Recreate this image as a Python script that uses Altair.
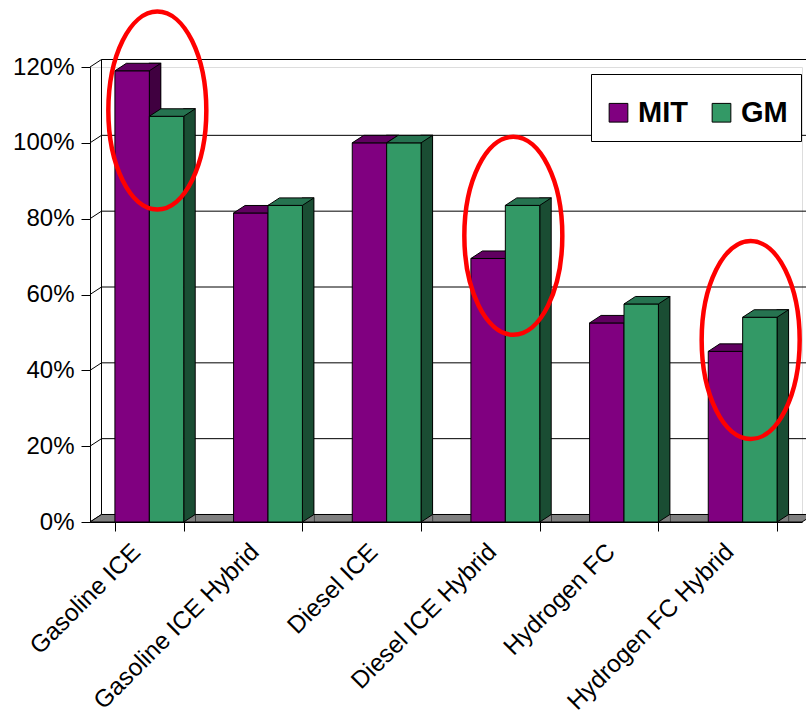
import altair as alt
import pandas as pd

# ---------------- data ----------------
categories = ["Gasoline ICE", "Gasoline ICE Hybrid", "Diesel ICE",
              "Diesel ICE Hybrid", "Hydrogen FC", "Hydrogen FC Hybrid"]
series = ["MIT", "GM"]
mit_values = [119, 81.5, 100, 69.5, 52.5, 45]
gm_values = [107, 83.5, 100, 83.5, 57.5, 54]
y_ticks = [0, 20, 40, 60, 80, 100, 120]
highlight_categories = ["Gasoline ICE", "Diesel ICE Hybrid", "Hydrogen FC Hybrid"]
highlight_centers = [108.5, 75.5, 48]

front_colors = ["#800080", "#339966"]
top_colors = ["#600060", "#267350"]
side_colors = ["#400040", "#1a4d33"]

# ---------------- geometry (styling) ----------------
W, H = 712, 455
PAD = {"left": 90, "top": 67, "right": 4, "bottom": 192}
DX, DY = 11.5, 7.5
P_IN, P_OUT = 0.42, 0.21
step = W / len(categories)
bar_w = step * (1 - P_IN) / 2
series_shift = [-bar_w / 2, bar_w / 2]


def poly(points, close=True):
    s = "M" + " L".join(f"{x:.4f},{y:.4f}" for x, y in points)
    return s + (" Z" if close else "")


# top face parallelogram
k_top = (bar_w + DX) / 2
a_top = (DY / 2) / k_top
top_path = poly([(-1, a_top), ((bar_w - DX) / 2 / k_top, a_top),
                 (1, -a_top), (-(bar_w - DX) / 2 / k_top, -a_top)])
# floor triangle to the right of each side face
k_tri = DX / 2
a_tri = (DY / 2) / k_tri
tri_path = poly([(1, a_tri), (-1, a_tri), (1, -a_tri)], close=False)
# floor parallelogram
k_floor = (W + DX) / 2
a_floor = (DY / 2) / k_floor
floor_path = poly([(-1, a_floor), ((W - k_floor) / k_floor, a_floor),
                   (1, -a_floor), ((DX - k_floor) / k_floor, -a_floor)])
# ellipse
k_ell = 99
rx = 49 / k_ell
ell_path = f"M{-rx:.4f},0 A{rx:.4f},1 0 1,0 {rx:.4f},0 A{rx:.4f},1 0 1,0 {-rx:.4f},0 Z"

rows = []
for c, m, g in zip(categories, mit_values, gm_values):
    rows.append({"category": c, "series": "MIT", "value": m})
    rows.append({"category": c, "series": "GM", "value": g})
df = pd.DataFrame(rows)
ticks_df = pd.DataFrame({"tick": y_ticks})
hl_df = pd.DataFrame({"category": highlight_categories, "center": highlight_centers})

FONT = "Liberation Sans"

x_scale = alt.Scale(domain=categories, paddingInner=P_IN, paddingOuter=P_OUT)
y_scale = alt.Scale(domain=[0, 120], nice=False)

x_axis = alt.Axis(title=None, labelAngle=-45, labelAlign="right", labelBaseline="middle",
                  labelFontSize=24.5, labelPadding=17, labelOffset=-13, tickSize=9,
                  tickBand="extent", labelOverlap=False, labelLimit=400, grid=False,
                  domainColor="black", tickColor="black", labelColor="black", labelFont=FONT)
y_axis = alt.Axis(title=None, values=y_ticks, labelExpr="datum.value + '%'",
                  labelFontSize=24, tickSize=9, labelPadding=7, grid=False,
                  domainColor="black", tickColor="black", labelColor="black", labelFont=FONT)


def X():
    return alt.X("category:N", scale=x_scale, axis=x_axis)


def Y(field=None, datum=None):
    if datum is not None:
        return alt.Y(datum=datum, scale=y_scale, axis=y_axis)
    return alt.Y(field, scale=y_scale, axis=y_axis)


# back wall gridlines
grid = alt.Chart(ticks_df).mark_rule(stroke="black", strokeWidth=1, yOffset=-DY).encode(
    y=Y("tick:Q"), x=alt.value(DX), x2=alt.value(W + DX))

# left wall diagonals
diag = alt.Chart(ticks_df).mark_rule(stroke="black", strokeWidth=1, y2Offset=-DY).encode(
    y=Y("tick:Q"), y2="tick:Q", x=alt.value(0), x2=alt.value(DX))

# left wall back edge
wall = alt.Chart(alt.Data(values=[{"lo": 0, "hi": 120}])).mark_rule(
    stroke="black", strokeWidth=1, yOffset=-DY, y2Offset=-DY).encode(
    y=Y("lo:Q"), y2="hi:Q", x=alt.value(DX))

# floor
floor = alt.Chart(alt.Data(values=[{"z": 0}])).mark_point(
    shape=floor_path, size=(2 * k_floor) ** 2, filled=True, fill="#808080",
    stroke="black", strokeWidth=1, opacity=1, yOffset=-DY / 2).encode(
    y=Y("z:Q"), x=alt.value(k_floor))

layers = [grid, diag, wall, floor]

legend = alt.Legend(title=" ", titleFontSize=8, titlePadding=3, orient="none",
                    legendX=501, legendY=7, direction="horizontal", symbolType="square",
                    symbolSize=350, symbolStrokeColor="black", symbolStrokeWidth=1,
                    labelFontSize=29, labelFontWeight="bold", labelOffset=5,
                    columnPadding=19, padding=13, strokeColor="black", fillColor="white",
                    labelColor="black", labelFont=FONT)

for i, s in enumerate(series):
    off = series_shift[i]
    base = alt.Chart(df).transform_filter(alt.datum.series == s)
    side_edge = base.mark_rule(stroke="black", strokeWidth=DX + 1,
                               xOffset=off + bar_w / 2 + DX / 2, yOffset=-DY - 0.5).encode(
        x=X(), y=Y("value:Q"), y2=alt.Y2(datum=0))
    side_fill = base.mark_rule(stroke=side_colors[i], strokeWidth=DX - 1,
                               xOffset=off + bar_w / 2 + DX / 2, yOffset=-DY + 0.5).encode(
        x=X(), y=Y("value:Q"), y2=alt.Y2(datum=0))
    tri = base.mark_point(shape=tri_path, size=(2 * k_tri) ** 2, filled=True, fill="#808080",
                          stroke="black", strokeWidth=1, opacity=1,
                          xOffset=off + bar_w / 2 + DX / 2, yOffset=-DY / 2).encode(
        x=X(), y=Y(datum=0))
    front = base.mark_bar(stroke="black", strokeWidth=1, width=bar_w, xOffset=off).encode(
        x=X(), y=Y("value:Q"),
        color=alt.Color("series:N", scale=alt.Scale(domain=series, range=front_colors),
                        legend=legend))
    top = base.mark_point(shape=top_path, size=(2 * k_top) ** 2, filled=True,
                          fill=top_colors[i], stroke="black", strokeWidth=1, opacity=1,
                          xOffset=off + DX / 2, yOffset=-DY / 2).encode(
        x=X(), y=Y("value:Q"))
    layers += [side_edge, side_fill, tri, front, top]

ellipses = alt.Chart(hl_df).mark_point(
    shape=ell_path, size=(2 * k_ell) ** 2, filled=False, stroke="#ff0000",
    strokeWidth=4.5, opacity=1, xOffset=8).encode(
    x=X(), y=Y("center:Q"))
layers.append(ellipses)

chart = alt.layer(*layers).properties(
    width=W, height=H, padding=PAD,
    autosize=alt.AutoSizeParams(type="none"),
    background="white",
).configure_view(stroke=None).configure(font=FONT)

chart.save("out.html", embed_options={"renderer": "svg", "actions": False})
